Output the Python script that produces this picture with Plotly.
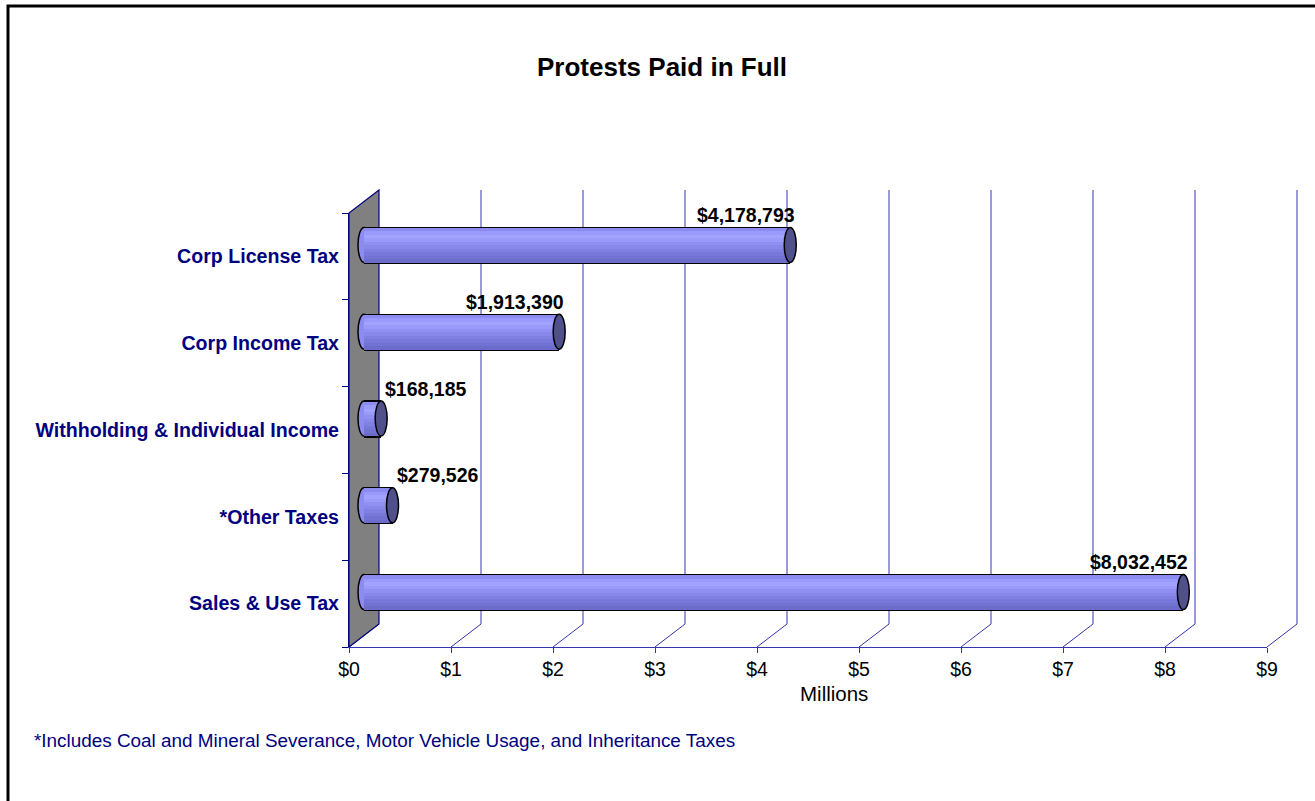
import plotly.graph_objects as go

# ---------------- data ----------------
categories = ["Sales & Use Tax", "*Other Taxes", "Withholding & Individual Income",
              "Corp Income Tax", "Corp License Tax"]          # bottom -> top
amounts = [8032452, 279526, 168185, 1913390, 4178793]           # dollars
x_ticks = [0, 1, 2, 3, 4, 5, 6, 7, 8, 9]                         # millions
x_tick_labels = ["$0", "$1", "$2", "$3", "$4", "$5", "$6", "$7", "$8", "$9"]
title_text = "Protests Paid in Full"
x_title = "Millions"
footnote = "*Includes Coal and Mineral Severance, Motor Vehicle Usage, and Inheritance Taxes"

values_m = [a / 1e6 for a in amounts]
idx = list(range(len(categories)))
labels = ["${:,}".format(a) for a in amounts]

# ---------------- geometry (pixels) ----------------
FIG_W, FIG_H = 1315, 801
L, T = 349, 190
W, H = 949, 457
R, B = FIG_W - L - W, FIG_H - T - H
DX, DY = 30, 23            # 3-D depth offset
FW, FH = 918, 434          # front plane size
XMAX = x_ticks[-1]
PX_PER_UNIT = FW / XMAX

def px_to_paper_x(p):
    return (p - L) / W

def px_to_paper_y(p):
    return (T + H - p) / H

NAVY = "#000080"
GRID = "#3434AE"
FONT = "Liberation Sans, Arial, sans-serif"

fig = go.Figure()

# invisible anchor trace for the front category axis
fig.add_trace(go.Scatter(x=values_m, y=categories, mode="markers",
                         marker=dict(size=1, opacity=0), hoverinfo="skip",
                         showlegend=False, xaxis="x", yaxis="y"))

# ---------------- bars (mid-depth plane) ----------------
BAR_W = 0.40
fig.add_trace(go.Bar(x=values_m, y=idx, orientation="h", xaxis="x3", yaxis="y3",
                     width=BAR_W + 0.03, offset=-(BAR_W + 0.03) / 2,
                     marker=dict(color="#000000", line=dict(width=0)),
                     hoverinfo="skip", showlegend=False))
stripe_colors = ["#8C8CF0", "#9A9AFC", "#A3A3FF", "#9A9AFA", "#9090F2",
                 "#8888EA", "#8080E2", "#7878DA", "#7272D2", "#6C6CCA"]  # top -> bottom
n = len(stripe_colors)
sw = BAR_W / n
for i, c in enumerate(stripe_colors):
    fig.add_trace(go.Bar(x=values_m, y=idx, orientation="h", xaxis="x3", yaxis="y3",
                         width=sw * 1.02, offset=BAR_W / 2 - (i + 1) * sw,
                         marker=dict(color=c, line=dict(width=0)),
                         hoverinfo="skip", showlegend=False))

shapes = []
# outer frame (left and top edges visible)
shapes.append(dict(type="path", xref="paper", yref="paper",
                   path="M {a},{b} L {a},{c} L {d},{c}".format(
                       a=px_to_paper_x(8), b=px_to_paper_y(820),
                       c=px_to_paper_y(6), d=px_to_paper_x(1330)),
                   line=dict(color="#000000", width=3), layer="above"))
# back-wall gridlines and floor diagonals, one per tick
for k in x_ticks:
    xf = (k / XMAX) * FW
    if k > 0:
        shapes.append(dict(type="line", xref="paper", yref="paper",
                           x0=(xf + DX) / W, y0=DY / H, x1=(xf + DX) / W, y1=1,
                           line=dict(color=GRID, width=1), layer="below"))
    shapes.append(dict(type="line", xref="paper", yref="paper",
                       x0=xf / W, y0=0, x1=(xf + DX) / W, y1=DY / H,
                       line=dict(color=GRID, width=1), layer="below"))
# left side wall
shapes.append(dict(type="path", xref="paper", yref="paper",
                   path="M 0,0 L {x},{y0} L {x},1 L 0,{y1} Z".format(
                       x=DX / W, y0=DY / H, y1=FH / H),
                   fillcolor="#808080", line=dict(color=NAVY, width=1.2), layer="below"))
# cylinder caps
for v, i in zip(values_m, idx):
    shapes.append(dict(type="circle", xref="x3", yref="y3",
                       xsizemode="pixel", ysizemode="pixel",
                       xanchor=0, yanchor=i, x0=-6, x1=6, y0=-17.5, y1=17.5,
                       fillcolor="#8C8CF0", line=dict(color="#000000", width=1.5),
                       layer="between"))
    shapes.append(dict(type="circle", xref="x3", yref="y3",
                       xsizemode="pixel", ysizemode="pixel",
                       xanchor=v, yanchor=i, x0=-6, x1=6, y0=-17.5, y1=17.5,
                       fillcolor="#50508A", line=dict(color="#000000", width=1.5),
                       layer="above"))

annotations = []
LABEL_FONT = dict(family=FONT, size=19.5, color="#000000", weight="bold")
for v, i, lab in zip(values_m, idx, labels):
    if v < 1:
        annotations.append(dict(x=v, y=i, xref="x3", yref="y3", text=lab, showarrow=False,
                                xanchor="left", yanchor="middle", xshift=2, yshift=30,
                                font=LABEL_FONT))
    else:
        annotations.append(dict(x=v, y=i, xref="x3", yref="y3", text=lab, showarrow=False,
                                xanchor="right", yanchor="middle", xshift=7, yshift=30,
                                font=LABEL_FONT))
annotations.append(dict(x=px_to_paper_x(834), y=px_to_paper_y(693), xref="paper", yref="paper",
                        text=x_title, showarrow=False, xanchor="center", yanchor="middle",
                        font=dict(family=FONT, size=20.5, color="#000000")))
annotations.append(dict(x=px_to_paper_x(32), y=px_to_paper_y(740), xref="paper", yref="paper",
                        text=footnote, showarrow=False, xanchor="left", yanchor="middle",
                        font=dict(family=FONT, size=18.9, color=NAVY)))

hidden = dict(showgrid=False, showticklabels=False, ticks="", showline=False,
              zeroline=False, automargin=False)

fig.update_layout(
    width=FIG_W, height=FIG_H,
    margin=dict(l=L, r=R, t=T, b=B, pad=0, autoexpand=False),
    paper_bgcolor="#FFFFFF", plot_bgcolor="rgba(0,0,0,0)",
    barmode="overlay", bargap=0,
    showlegend=False,
    title=dict(text="<b>" + title_text + "</b>", x=662 / FIG_W, xref="container",
               xanchor="center", y=1 - 67 / FIG_H, yref="container", yanchor="middle",
               font=dict(family=FONT, size=26, color="#000000")),
    xaxis=dict(domain=[0, FW / W], range=[0, XMAX], anchor="y", automargin=False,
               tickvals=x_ticks, ticktext=x_tick_labels, ticks="outside", ticklen=5,
               tickcolor=GRID, showline=True, linecolor=GRID, linewidth=1,
               showgrid=False, zeroline=False,
               tickfont=dict(family=FONT, size=19.5, color="#000000")),
    yaxis=dict(domain=[0, FH / H], type="category", categoryorder="array",
               categoryarray=categories, range=[-0.5, len(categories) - 0.5], anchor="x",
               automargin=False,
               tickson="boundaries", ticks="outside", ticklen=6, tickcolor=NAVY,
               ticklabelstandoff=5,
               showline=True, linecolor=NAVY, linewidth=1.2, showgrid=False, zeroline=False,
               tickfont=dict(family=FONT, size=19.6, color=NAVY, weight="bold")),
    # mid-depth plane: domain starts at the wall so the left caps are not clipped
    xaxis3=dict(domain=[0, (DX / 2 + FW) / W], range=[-(DX / 2) / PX_PER_UNIT, XMAX],
                anchor="y3", **hidden),
    yaxis3=dict(domain=[DY / 2 / H, (DY / 2 + FH) / H], range=[-0.5, len(categories) - 0.5],
                anchor="x3", **hidden),
    shapes=shapes,
    annotations=annotations,
)

fig.write_html("out.html", config={"displayModeBar": False},
               post_script="document.body.style.margin='0';document.body.style.overflow='hidden';")
